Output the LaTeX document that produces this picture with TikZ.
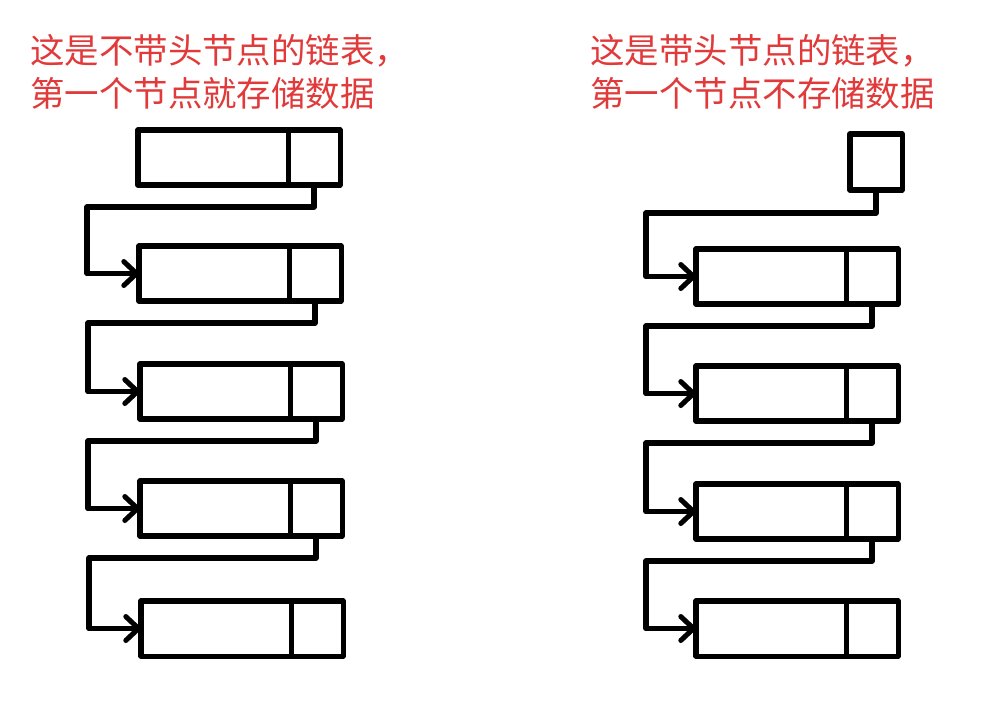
\documentclass[tikz,border=0pt]{standalone}
\usepackage{fontspec}
\newfontfamily\cjk{Noto Sans CJK SC}
\usetikzlibrary{positioning,calc,arrows.meta}
\definecolor{notered}{HTML}{E03A3A}
\tikzset{
    data/.style={draw, line width=3.6pt, line join=round, rectangle, minimum width=3.75cm, minimum height=1.375cm, inner sep=0pt, outer sep=0pt},
    ptr/.style={draw, line width=3.6pt, line join=round, rectangle, minimum width=1.3cm, minimum height=1.375cm, inner sep=0pt, outer sep=0pt},
    link/.style={draw, line width=4pt, line join=round, -{Straight Barb[length=9pt,width=17pt,line width=3.6pt,round]}},
    note/.style={text=notered, align=left, anchor=west, inner sep=0pt, font=\cjk\fontsize{24.5}{30.5}\selectfont}
}
\begin{document}
\begin{tikzpicture}[x=0.025cm, y=-0.025cm]
    \useasboundingbox (0,0) rectangle (983,706);

    % notes
    \node[note] (noteL) at (30, 72) {这是不带头节点的链表，\\第一个节点就存储数据};
    \node[note] (noteR) at (590, 72) {这是带头节点的链表，\\第一个节点不存储数据};

    % list without head node
    \foreach \i/\x/\y in {1/138/130, 2/139/246, 3/140/364, 4/140/481, 5/141/601} {
        \node[data, anchor=north west] (L\i) at (\x, \y) {};
        \node[ptr, anchor=west] (L\i p) at (L\i.east) {};
    }
    \foreach \i/\j in {1/2, 2/3, 3/4, 4/5}
        \draw[link] (L\i p.south) -- ++(0,22) -| ($(L\j.west)+(-52,0)$) -- (L\j.west);

    % list with head node
    \node[ptr, minimum height=1.4cm, anchor=north west] (H) at (850, 134) {};
    \foreach \i/\y in {1/249, 2/366, 3/484, 4/601} {
        \node[data, anchor=north west] (R\i) at (696, \y) {};
        \node[ptr, anchor=west] (R\i p) at (R\i.east) {};
    }
    \draw[link] (H.south) -- ++(0,23) -| ($(R1.west)+(-50,0)$) -- (R1.west);
    \foreach \i/\j in {1/2, 2/3, 3/4}
        \draw[link] (R\i p.south) -- ++(0,22) -| ($(R\j.west)+(-50,0)$) -- (R\j.west);
\end{tikzpicture}
\end{document}
